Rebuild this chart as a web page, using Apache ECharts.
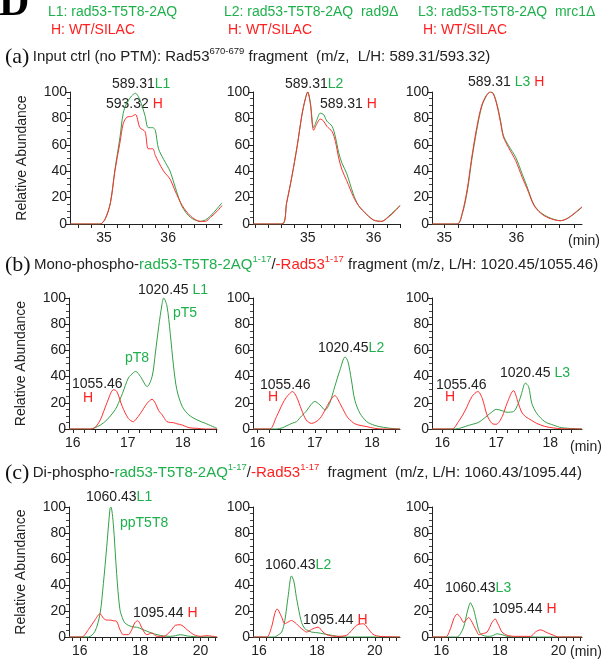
<!DOCTYPE html>
<html>
<head>
<meta charset="utf-8">
<script src="https://cdn.jsdelivr.net/npm/echarts@6/dist/echarts.min.js"></script>
<style>
html, body { margin: 0; padding: 0; background: #fff; }
#chart { width: 607px; height: 660px; }
</style>
</head>
<body>
<div id="chart"></div>
<script>
// colours
var lineGreen = '#33a047', lineRed = '#ff3030';
var textGreen = '#1fb04c', textRed = '#ff1f1f';
var font = '"Liberation Sans", Arial, sans-serif';

// x tick labels (min)
var xLabelsA = [35, 36];
var xLabelsB = [16, 17, 18];
var xLabelsC = [16, 18, 20];

// (a) input ctrl, 589.31 / 593.32
var timeA1 = [34.47, 34.94, 35.02, 35.10, 35.17, 35.25, 35.30, 35.36, 35.43, 35.49, 35.56, 35.64, 35.69, 35.76, 35.80, 35.85, 35.93, 36.03, 36.11, 36.22, 36.35, 36.50, 36.58, 36.66, 36.77, 36.84];
var lightA1 = [0, 0, 4, 16, 41, 66, 84, 92, 97, 99, 94, 82, 73, 73, 71, 57, 49, 40, 28, 13, 5, 2, 3, 6, 12, 16];
var heavyA1 = [0, 0, 4, 16, 40, 62, 76, 81, 81.5, 83, 73, 70, 57, 57, 52, 47, 40, 34, 25, 14, 6, 2, 2, 5, 10, 14];

var timeA2 = [34.17, 34.61, 34.68, 34.76, 34.84, 34.91, 34.96, 35.00, 35.04, 35.09, 35.14, 35.19, 35.24, 35.29, 35.37, 35.42, 35.47, 35.52, 35.59, 35.69, 35.77, 35.90, 36.00, 36.12, 36.22, 36.33, 36.40];
var lightA2 = [0, 0, 16, 36, 59, 82, 94, 100, 92, 73, 79, 84, 83, 78, 74, 66, 54, 46, 38.5, 23, 14, 7, 3, 2, 5.5, 10.6, 14];
var heavyA2 = [0, 0, 16, 36, 59, 82, 94, 100, 91, 71, 76, 79.5, 78, 74, 70, 62.5, 50, 41, 33, 21, 14, 7, 3, 2, 5, 10, 14];

var timeA3 = [34.83, 35.18, 35.25, 35.32, 35.38, 35.45, 35.52, 35.59, 35.64, 35.68, 35.73, 35.78, 35.82, 35.89, 35.99, 36.08, 36.15, 36.24, 36.33, 36.45, 36.61, 36.70, 36.80, 36.91];
var lightA3 = [0, 0, 7.6, 25, 48, 71, 89, 97.5, 100, 99, 91, 78.5, 67, 59.5, 50.6, 38, 28, 15, 9, 5, 2.5, 4, 7.6, 12.7];
var heavyA3 = [0, 0, 8.5, 27, 50, 73, 90, 98, 100, 98.5, 90, 77, 66, 58, 48, 35.4, 26.6, 14.5, 8.5, 4.5, 2.5, 4, 8, 13];

// (b) mono-phospho, 1020.45 / 1055.46
var timeB1 = [15.93, 16.32, 16.40, 16.50, 16.62, 16.74, 16.80, 16.90, 17.01, 17.10, 17.14, 17.23, 17.35, 17.44, 17.50, 17.56, 17.62, 17.65, 17.71, 17.77, 17.83, 17.89, 17.99, 18.11, 18.26, 18.41, 18.62];
var lightB1 = [0, 0, 1, 3, 7, 13, 17, 27, 39, 43, 44, 40, 32.4, 40, 58, 78, 95, 100, 94, 73, 48, 30, 17, 10.7, 6.9, 4.3, 0.5];
var heavyB1 = [0, 0, 1, 7, 20, 30, 28.6, 17, 8, 5.6, 7, 12, 19.6, 22.7, 19.6, 14, 11, 9, 5.6, 5, 4.8, 4, 3, 1, 0.5, 0, 0];

var timeB2 = [15.92, 16.21, 16.33, 16.44, 16.50, 16.56, 16.61, 16.68, 16.77, 16.85, 16.94, 17.00, 17.09, 17.18, 17.26, 17.35, 17.44, 17.53, 17.58, 17.64, 17.70, 17.79, 17.91, 18.05, 18.20, 18.37, 18.49];
var lightB2 = [0, 0, 0, 1, 2.3, 3.5, 4.5, 5.6, 10, 13.5, 19, 21, 18.4, 14.5, 19.6, 32.4, 45, 55, 51.5, 37.5, 22, 12, 5.6, 2.7, 1.3, 0.3, 0];
var heavyB2 = [0, 0, 9.4, 19.6, 24, 27, 28.6, 24.7, 14.5, 6.9, 4.3, 5, 8, 14.5, 21, 25.5, 19.6, 12, 8.5, 6, 4, 2.8, 1.8, 0.5, 0, 0, 0];

var timeB3 = [15.81, 16.18, 16.30, 16.43, 16.55, 16.66, 16.74, 16.83, 16.92, 17.00, 17.11, 17.20, 17.32, 17.41, 17.47, 17.54, 17.60, 17.66, 17.75, 17.90, 18.06, 18.21, 18.59];
var lightB3 = [0, 0, 0.3, 2, 3.5, 4.8, 7, 10, 13, 15, 14, 12.8, 13.3, 19.6, 27, 35, 32.4, 19.6, 12, 5.6, 3, 1, 0];
var heavyB3 = [0, 0, 5.6, 14.5, 24.7, 28.6, 23.5, 10.7, 4.3, 3.6, 9.4, 19.6, 29.3, 19.6, 13, 9.5, 8, 6.5, 4.3, 2, 0.8, 0.2, 0];

// (c) di-phospho, 1060.43 / 1095.44
var timeC1 = [15.64, 16.06, 16.28, 16.50, 16.67, 16.78, 16.89, 17.00, 17.03, 17.11, 17.22, 17.33, 17.44, 17.50, 17.61, 17.72, 17.83, 17.92, 18.06, 18.22, 18.39, 18.56, 18.78, 19.00, 19.17, 19.33, 19.56, 19.78, 20.00, 20.22, 20.55];
var lightC1 = [0, 0, 0, 4.3, 18, 41, 69, 98.7, 100, 87, 49, 21, 13, 10.7, 9, 8, 7.6, 7.4, 6, 4.5, 3, 1.8, 0.8, 0.5, 1, 1.8, 0.8, 0.3, 0, 0, 0];
var heavyC1 = [0, 0, 5.6, 13, 17.9, 14.5, 13, 13, 13, 12.5, 12, 5.6, 1.8, 1.8, 1.8, 5.6, 11.2, 12.5, 6.9, 1.8, 3, 0.5, 0.5, 4.3, 9, 9.4, 5.6, 1.8, 0.5, 1, 0];

var timeC2 = [15.79, 16.26, 16.43, 16.54, 16.62, 16.78, 16.89, 17.00, 17.12, 17.20, 17.29, 17.41, 17.47, 17.58, 17.64, 17.81, 17.87, 18.04, 18.21, 18.39, 18.68, 19.02, 19.20, 19.37, 19.60, 19.77, 19.94, 20.18, 20.87];
var lightC2 = [0, 0, 0, 0, 1, 3.8, 12.7, 30.5, 47, 43, 30.5, 16.5, 11, 6.4, 5.5, 3.8, 3.6, 3.2, 2.5, 1.8, 0.6, 0, 0, 0, 0, 0, 0, 0, 0];
var heavyC2 = [0, 0, 7.6, 17.8, 21.6, 15.3, 10.2, 11.5, 12.7, 11.8, 10.2, 7.5, 6.4, 4.5, 3.8, 5.8, 6.4, 7.6, 3.8, 1.3, 0.5, 1.3, 5, 9, 10.2, 6.4, 2, 0.5, 0];

var timeC3 = [15.68, 16.14, 16.31, 16.42, 16.54, 16.65, 16.76, 16.88, 16.93, 16.99, 17.05, 17.10, 17.16, 17.22, 17.27, 17.33, 17.39, 17.56, 17.73, 17.84, 17.90, 17.96, 18.07, 18.24, 18.30, 18.47, 19.04, 19.21, 19.38, 19.61, 19.83, 20.00, 20.80];
var lightC3 = [0, 0, 0, 0, 0, 2.5, 7.6, 18.9, 23, 26.4, 24, 21.4, 16, 10, 5.5, 2.5, 1.5, 0.5, 0.8, 2, 2.5, 2.2, 1.8, 0.5, 0.3, 0, 0, 0, 0, 0, 0, 0, 0];
var heavyC3 = [0, 0, 6.3, 13.9, 17.6, 15.1, 11.3, 14, 15.1, 13.5, 11.3, 9, 6.3, 3.8, 1.8, 2, 2.5, 3.8, 11.3, 13.9, 11.5, 8.8, 3.8, 1.3, 1, 0.5, 0.5, 3.8, 5.5, 3.3, 1.3, 0, 0];

// panel layout
var panels = [
  {time: timeA1, light: lightA1, heavy: heavyA1, x: 70, y: 92, w: 152, h: 132, min: 34.47, max: 36.84, step: 0.2, labels: xLabelsA, yName: true},
  {time: timeA2, light: lightA2, heavy: heavyA2, x: 253, y: 92, w: 147, h: 132, min: 34.17, max: 36.40, step: 0.2, labels: xLabelsA},
  {time: timeA3, light: lightA3, heavy: heavyA3, x: 432, y: 92, w: 150, h: 132, min: 34.83, max: 36.91, step: 0.2, labels: xLabelsA},
  {time: timeB1, light: lightB1, heavy: heavyB1, x: 69, y: 298, w: 148, h: 131, min: 15.93, max: 18.62, step: 0.2, labels: xLabelsB, yName: true},
  {time: timeB2, light: lightB2, heavy: heavyB2, x: 253, y: 298, w: 147, h: 131, min: 15.92, max: 18.49, step: 0.2, labels: xLabelsB},
  {time: timeB3, light: lightB3, heavy: heavyB3, x: 432, y: 298, w: 150, h: 131, min: 15.81, max: 18.59, step: 0.2, labels: xLabelsB},
  {time: timeC1, light: lightC1, heavy: heavyC1, x: 69, y: 507, w: 148, h: 130, min: 15.64, max: 20.55, step: 0.25, labels: xLabelsC, yName: true},
  {time: timeC2, light: lightC2, heavy: heavyC2, x: 253, y: 507, w: 147, h: 130, min: 15.79, max: 20.87, step: 0.25, labels: xLabelsC},
  {time: timeC3, light: lightC3, heavy: heavyC3, x: 432, y: 507, w: 150, h: 130, min: 15.68, max: 20.80, step: 0.25, labels: xLabelsC}
];

function tickValues(min, max, step) {
  var out = [];
  for (var v = Math.ceil(min / step - 1e-6) * step; v <= max + 1e-6; v += step) {
    out.push(Math.round(v * 100) / 100);
  }
  return out;
}

var grids = [], xAxes = [], yAxes = [], series = [];
panels.forEach(function (p, i) {
  grids.push({left: p.x, top: p.y, width: p.w, height: p.h});
  xAxes.push({
    type: 'value', gridIndex: i, min: p.min, max: p.max,
    splitLine: {show: false},
    axisLine: {lineStyle: {color: '#222', width: 1}},
    axisTick: {length: 4, lineStyle: {color: '#222'}, customValues: tickValues(p.min, p.max, p.step)},
    axisLabel: {customValues: p.labels, color: '#222', fontSize: 14, fontFamily: font, margin: 7}
  });
  yAxes.push({
    type: 'value', gridIndex: i, min: 0, max: 100, interval: 20,
    splitLine: {show: false},
    axisLine: {show: true, lineStyle: {color: '#222', width: 1}},
    axisTick: {length: 5, lineStyle: {color: '#222'}},
    minorTick: {show: true, splitNumber: 4, length: 3, lineStyle: {color: '#444'}},
    axisLabel: {color: '#222', fontSize: 14, fontFamily: font, margin: 3},
    name: p.yName ? 'Relative Abundance' : '',
    nameLocation: 'middle', nameRotate: 90, nameGap: 41,
    nameTextStyle: {color: '#222', fontSize: 14, fontFamily: font}
  });
  series.push({
    type: 'line', xAxisIndex: i, yAxisIndex: i, showSymbol: false, smooth: 0.3,
    lineStyle: {color: lineGreen, width: 1}, itemStyle: {color: lineGreen},
    data: p.time.map(function (t, k) { return [t, p.light[k]]; })
  });
  series.push({
    type: 'line', xAxisIndex: i, yAxisIndex: i, showSymbol: false, smooth: 0.3,
    lineStyle: {color: lineRed, width: 1}, itemStyle: {color: lineRed},
    data: p.time.map(function (t, k) { return [t, p.heavy[k]]; })
  });
});

function tok(c, size, fam) {
  return {fill: c, color: c, fontSize: size, fontFamily: fam || font};
}
function sup(c) {
  var s = tok(c, 9.5);
  s.verticalAlign = 'top';
  return s;
}
var rich = {
  k: tok('#222', 14), g: tok(textGreen, 14), r: tok(textRed, 14),
  tk: tok('#222', 15), tg: tok(textGreen, 15), tr: tok(textRed, 15),
  p: tok('#111', 22, '"Liberation Serif", "Times New Roman", serif'),
  sk: sup('#222'), sg: sup(textGreen), sr: sup(textRed),
  hg: tok(textGreen, 14), hr: tok(textRed, 14)
};

function txt(x, y, s) {
  return {type: 'text', x: x, y: y, silent: true,
    style: {text: s, rich: rich, verticalAlign: 'middle', align: 'left'}};
}

var texts = [
  {type: 'text', x: -1, y: 4, style: {text: 'D', fill: '#000', font: 'bold 42px "Liberation Serif", serif', verticalAlign: 'middle'}},
  txt(48, 12, '{hg|L1: rad53-T5T8-2AQ}'),
  txt(51, 30, '{hr|H: WT/SILAC}'),
  txt(224, 12, '{hg|L2: rad53-T5T8-2AQ  rad9\u0394}'),
  txt(228, 30, '{hr|H: WT/SILAC}'),
  txt(418, 12, '{hg|L3: rad53-T5T8-2AQ  mrc1\u0394}'),
  txt(423, 30, '{hr|H: WT/SILAC}'),
  txt(5, 57, '{p|(a)} {tk|Input ctrl (no PTM): Rad53}{sk|670-679}{tk| fragment  (m/z,  L/H: 589.31/593.32)}'),
  txt(5, 265, '{p|(b)} {tk|Mono-phospho-}{tg|rad53-T5T8-2AQ}{sg|1-17}{tk|/}{tr|-Rad53}{sr|1-17}{tk| fragment (m/z, L/H: 1020.45/1055.46)}'),
  txt(5, 473, '{p|(c)} {tk|Di-phospho-}{tg|rad53-T5T8-2AQ}{sg|1-17}{tk|/}{tr|-Rad53}{sr|1-17}{tk|  fragment  (m/z, L/H: 1060.43/1095.44)}'),
  // peak annotations
  txt(112, 84, '{k|589.31}{g|L1}'),
  txt(106, 104, '{k|593.32 }{r|H}'),
  txt(285, 84, '{k|589.31}{g|L2}'),
  txt(320, 104, '{k|589.31 }{r|H}'),
  txt(468, 82, '{k|589.31 }{g|L3 }{r|H}'),
  txt(138, 290, '{k|1020.45 }{g|L1}'),
  txt(173, 313, '{g|pT5}'),
  txt(125, 358, '{g|pT8}'),
  txt(72, 384, '{k|1055.46}'),
  txt(83, 398, '{r|H}'),
  txt(318, 348, '{k|1020.45}{g|L2}'),
  txt(260, 385, '{k|1055.46}'),
  txt(268, 397, '{r|H}'),
  txt(500, 373, '{k|1020.45 }{g|L3}'),
  txt(436, 385, '{k|1055.46}'),
  txt(445, 397, '{r|H}'),
  txt(86, 497, '{k|1060.43}{g|L1}'),
  txt(120, 523, '{g|ppT5T8}'),
  txt(133, 613, '{k|1095.44 }{r|H}'),
  txt(265, 565, '{k|1060.43}{g|L2}'),
  txt(303, 620, '{k|1095.44 }{r|H}'),
  txt(445, 588, '{k|1060.43}{g|L3}'),
  txt(492, 609, '{k|1095.44 }{r|H}'),
  txt(568, 241, '{k|(min)}'),
  txt(570, 447, '{k|(min)}'),
  txt(570, 652, '{k|(min)}')
];

var chart = echarts.init(document.getElementById('chart'), null, {renderer: 'canvas'});
chart.setOption({
  animation: false,
  backgroundColor: '#fff',
  grid: grids,
  xAxis: xAxes,
  yAxis: yAxes,
  series: series,
  graphic: texts
});
</script>
</body>
</html>
